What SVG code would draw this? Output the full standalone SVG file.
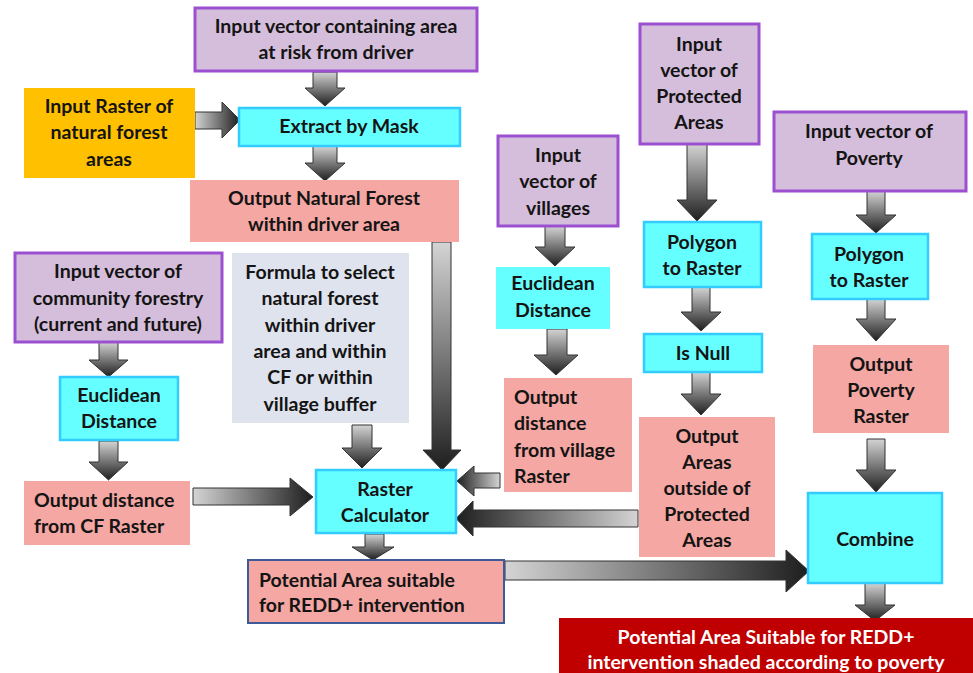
<svg xmlns="http://www.w3.org/2000/svg" width="973" height="673" viewBox="0 0 973 673">
<defs>
<linearGradient id="gd" x1="0" y1="0" x2="0" y2="1"><stop offset="0" stop-color="#d4d4d4"/><stop offset="1" stop-color="#1e1e1e"/></linearGradient>
<linearGradient id="gr" x1="0" y1="0" x2="1" y2="0"><stop offset="0" stop-color="#d4d4d4"/><stop offset="1" stop-color="#1e1e1e"/></linearGradient>
<linearGradient id="gl" x1="1" y1="0" x2="0" y2="0"><stop offset="0" stop-color="#d4d4d4"/><stop offset="1" stop-color="#1e1e1e"/></linearGradient>
<style>
text{font-family:Lato,"Open Sans","Liberation Sans",sans-serif;font-weight:bold;font-size:19.5px;fill:#141414;text-anchor:middle}
text.l{text-anchor:start}
text.w{fill:#ffffff}
.pur{fill:#d5bedb;stroke:#9b50d2;stroke-width:3}
.cy{fill:#66ffff;stroke:#33ccff;stroke-width:2.5}
.cyn{fill:#66ffff}
.pk{fill:#f4a7a3}
.or{fill:#ffc000}
.fm{fill:#dee3ee}
.rd{fill:#c00000}
.pb{fill:#f4a7a3;stroke:#3c5a98;stroke-width:2}
.ad{fill:url(#gd);stroke:#333;stroke-width:1}
.ar{fill:url(#gr);stroke:#333;stroke-width:1}
.al{fill:url(#gl);stroke:#333;stroke-width:1}
</style>
</defs>

<g id="connectors">
<path class="ad" d="M313 72H337V88H345L325 106L305 88H313Z"/>
<path class="ad" d="M313 146H337V163H345L325 181L305 163H313Z"/>
<path class="ar" d="M195 112H222V102L240 120L222 138V129H195Z"/>
<path class="ad" d="M99 342H118V360H128L108.5 377L89 360H99Z"/>
<path class="ad" d="M99 441H118V462H128L108.5 480L89 462H99Z"/>
<path class="ar" d="M193 488H290V478L313 497L290 516V505H193Z"/>
<path class="ad" d="M352 425H372V448H382L362 468L342 448H352Z"/>
<path class="ad" d="M432 242H451V450H461L442 470L423 450H432Z"/>
<path class="al" d="M500 473H474V466L457 481L474 496V488H500Z"/>
<path class="al" d="M638 510H473V501L456 518.5L473 536V527H638Z"/>
<path class="ad" d="M365 534H384V547H394L373 560L352 547H365Z"/>
<path class="ar" d="M505 561H786V550L809 571L786 592V580H505Z"/>
<path class="ad" d="M545 226H565V247H575L555 266L535 247H545Z"/>
<path class="ad" d="M547 329H567V355H578L556 375L534 355H547Z"/>
<path class="ad" d="M687 144H707V200H717L697 221L677 200H687Z"/>
<path class="ad" d="M692 287H710V312H721L701 331L681 312H692Z"/>
<path class="ad" d="M692 372H710V394H721L701 415L681 394H692Z"/>
<path class="ad" d="M867 191H885V215H896L876 233L856 215H867Z"/>
<path class="ad" d="M867 299H885V319H896L876 341L856 319H867Z"/>
<path class="ad" d="M867 439H885V470H896L876 492L856 470H867Z"/>
<path class="ad" d="M865 583H885V605H895L875 621L855 605H865Z"/>
</g>

<g id="n_driver"><rect class="pur" x="195" y="8" width="282" height="63"/>
<text x="336" y="33">Input vector containing area</text><text x="336" y="59">at risk from driver</text></g>

<g id="n_forest_raster"><rect class="or" x="24" y="88" width="171" height="90"/>
<text x="109" y="113">Input Raster of</text><text x="109" y="139">natural forest</text><text x="109" y="166">areas</text></g>

<g id="n_extract"><rect class="cy" x="239" y="108" width="221" height="38"/>
<text x="349" y="133">Extract by Mask</text></g>

<g id="n_out_nf"><rect class="pk" x="190" y="180" width="269" height="62"/>
<text x="324" y="205">Output Natural Forest</text><text x="324" y="231">within driver area</text></g>

<g id="n_cf"><rect class="pur" x="15" y="253" width="207" height="89"/>
<text x="118" y="278">Input vector of</text><text x="118" y="305">community forestry</text><text x="118" y="331">(current and future)</text></g>

<g id="n_euc_cf"><rect class="cy" x="60" y="377" width="118" height="63"/>
<text x="119" y="402">Euclidean</text><text x="119" y="428">Distance</text></g>

<g id="n_out_cf"><rect class="pk" x="24" y="481" width="166" height="64"/>
<text class="l" x="34" y="507">Output distance</text><text class="l" x="34" y="533">from CF Raster</text></g>

<g id="n_formula"><rect class="fm" x="232" y="253" width="177" height="170"/>
<text x="320" y="279">Formula to select</text><text x="320" y="305">natural forest</text><text x="320" y="332">within driver</text><text x="320" y="358">area and within</text><text x="320" y="384">CF or within</text><text x="320" y="411">village buffer</text></g>

<g id="n_rastercalc"><rect class="cy" x="316" y="470" width="140" height="63"/>
<text x="385" y="496">Raster</text><text x="385" y="522">Calculator</text></g>

<g id="n_potential"><rect class="pb" x="248" y="560" width="256" height="63"/>
<text class="l" x="259" y="587">Potential Area suitable</text><text class="l" x="259" y="612">for REDD+ intervention</text></g>

<g id="n_villages"><rect class="pur" x="498" y="136" width="120" height="90"/>
<text x="558" y="162">Input</text><text x="558" y="188">vector of</text><text x="558" y="215">villages</text></g>

<g id="n_euc_v"><rect class="cyn" x="496" y="267" width="114" height="62"/>
<text x="553" y="290">Euclidean</text><text x="553" y="317">Distance</text></g>

<g id="n_out_v"><rect class="pk" x="504" y="378" width="128" height="114"/>
<text class="l" x="514" y="404">Output</text><text class="l" x="514" y="430">distance</text><text class="l" x="514" y="457">from village</text><text class="l" x="514" y="483">Raster</text></g>

<g id="n_pa"><rect class="pur" x="640" y="24" width="119" height="120"/>
<text x="699" y="51">Input</text><text x="699" y="77">vector of</text><text x="699" y="103">Protected</text><text x="699" y="129">Areas</text></g>

<g id="n_ptr_pa"><rect class="cy" x="644" y="222" width="117" height="65"/>
<text x="702" y="249">Polygon</text><text x="702" y="275">to Raster</text></g>

<g id="n_isnull"><rect class="cy" x="644" y="334" width="118" height="38"/>
<text x="703" y="360">Is Null</text></g>

<g id="n_out_pa"><rect class="pk" x="639" y="417" width="136" height="140"/>
<text x="707" y="443">Output</text><text x="707" y="469">Areas</text><text x="707" y="495">outside of</text><text x="707" y="521">Protected</text><text x="707" y="547">Areas</text></g>

<g id="n_poverty"><rect class="pur" x="774" y="112" width="192" height="79"/>
<text x="869" y="138">Input vector of</text><text x="869" y="165">Poverty</text></g>

<g id="n_ptr_pov"><rect class="cy" x="812" y="234" width="116" height="65"/>
<text x="869" y="261">Polygon</text><text x="869" y="287">to Raster</text></g>

<g id="n_out_pov"><rect class="pk" x="813" y="345" width="136" height="88"/>
<text x="881" y="371">Output</text><text x="881" y="397">Poverty</text><text x="881" y="423">Raster</text></g>

<g id="n_combine"><rect class="cy" x="808" y="493" width="134" height="90"/>
<text x="875" y="546">Combine</text></g>

<g id="n_final"><rect class="rd" x="559" y="618" width="414" height="55"/>
<text class="w" x="766" y="644">Potential Area Suitable for REDD+</text><text class="w" x="766" y="669">intervention shaded according to poverty</text></g>
</svg>
